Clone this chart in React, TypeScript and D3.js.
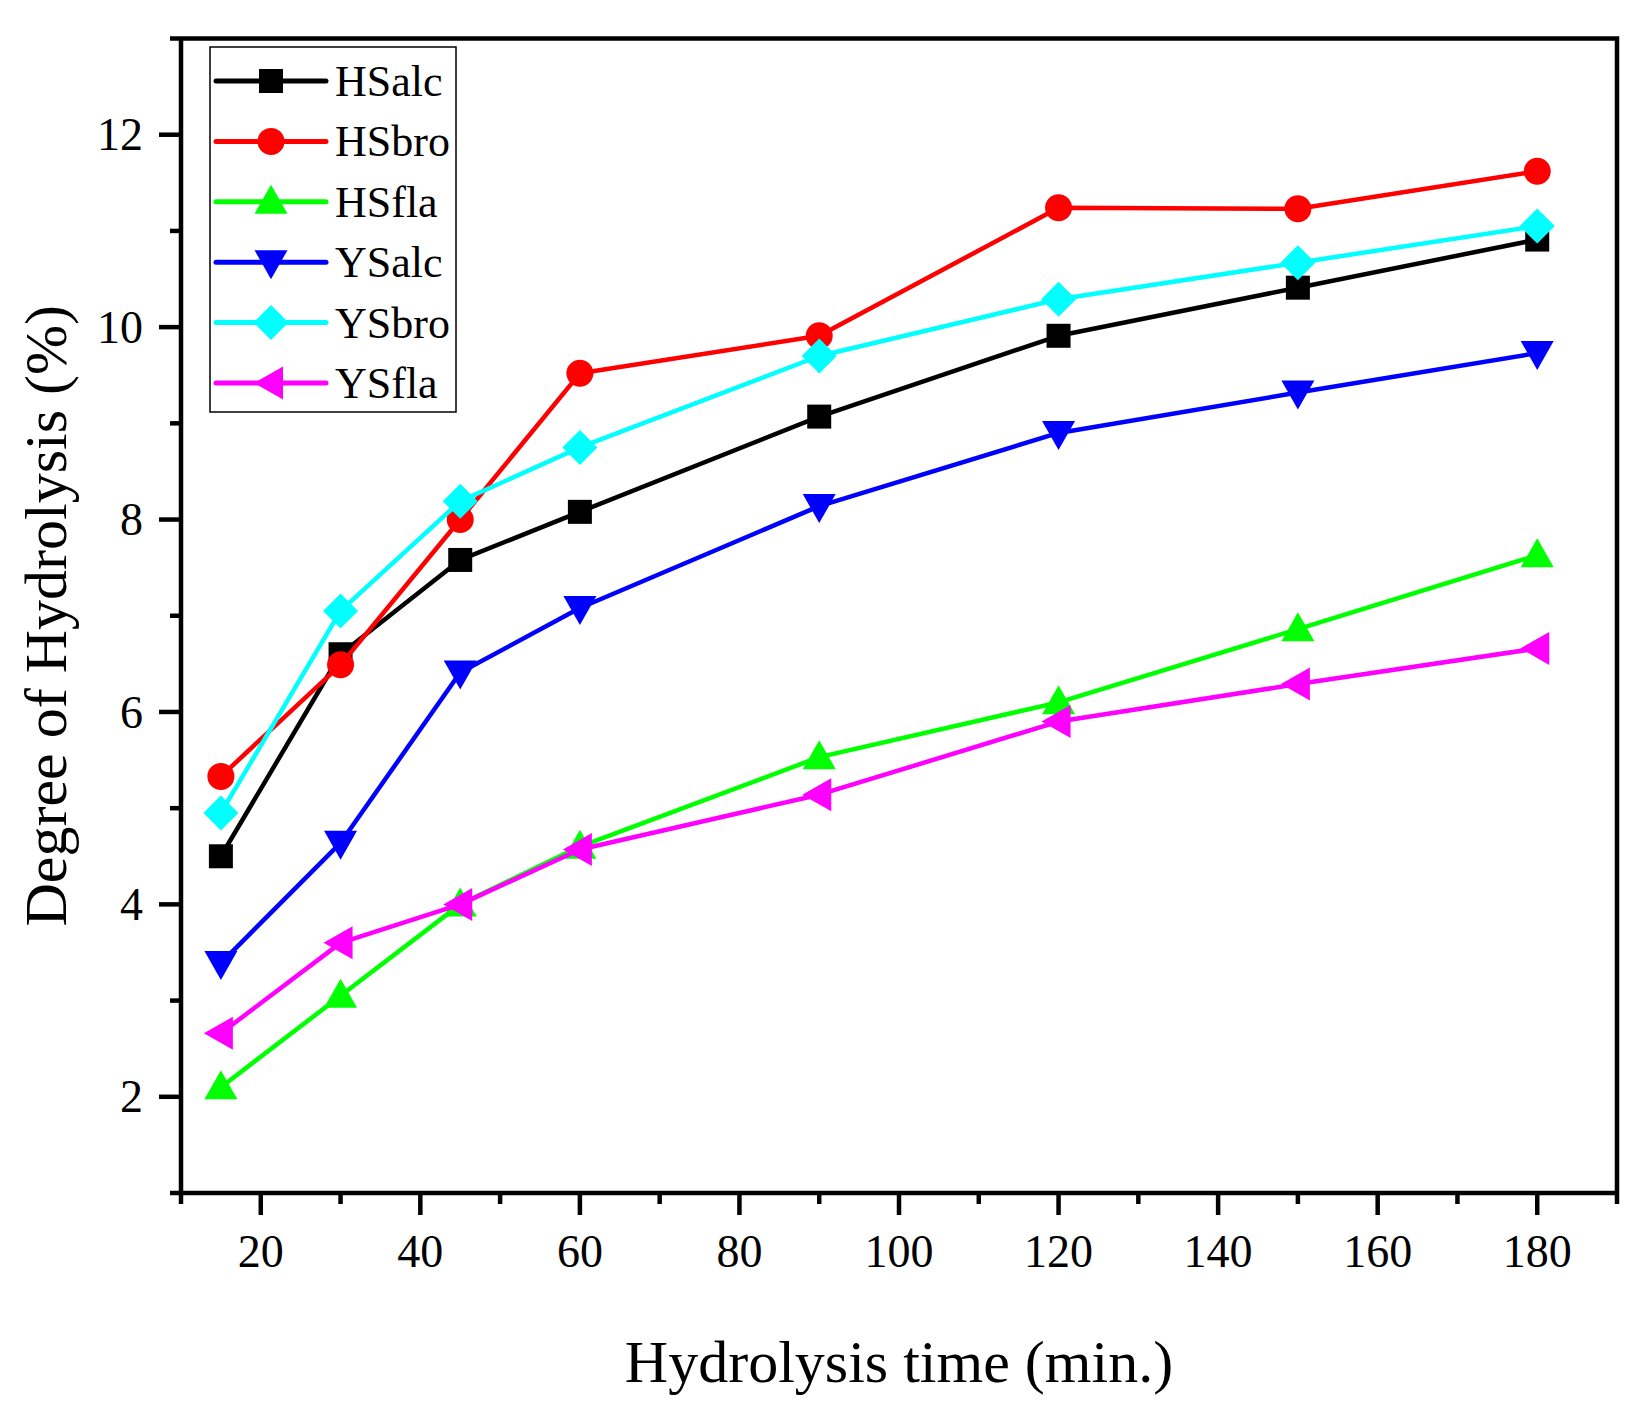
import { useEffect, useRef } from 'react'
import * as d3 from 'd3'

const TIMES = [15, 30, 45, 60, 90, 120, 150, 180]
const SERIES_NAMES = ['HSalc', 'HSbro', 'HSfla', 'YSalc', 'YSbro', 'YSfla']
const COLORS = ['#000000', '#ff0000', '#00ff00', '#0000ff', '#00ffff', '#ff00ff']
const SHAPES = ['square', 'circle', 'triUp', 'triDown', 'diamond', 'triLeft']

const HSalc = [4.5, 6.6, 7.58, 8.08, 9.07, 9.91, 10.41, 10.91]
const HSbro = [5.33, 6.49, 8.0, 9.52, 9.91, 11.24, 11.23, 11.62]
const HSfla = [2.1, 3.05, 4.0, 4.6, 5.53, 6.1, 6.86, 7.63]
const YSalc = [3.39, 4.64, 6.41, 7.08, 8.14, 8.9, 9.32, 9.73]
const YSbro = [4.95, 7.05, 8.19, 8.75, 9.7, 10.29, 10.67, 11.05]
const YSfla = [2.66, 3.6, 4.0, 4.57, 5.14, 5.9, 6.29, 6.66]
const VALUES = [HSalc, HSbro, HSfla, YSalc, YSbro, YSfla]

const X_MAJOR = [20, 40, 60, 80, 100, 120, 140, 160, 180]
const X_MINOR = [10, 30, 50, 70, 90, 110, 130, 150, 170, 190]
const Y_MAJOR = [2, 4, 6, 8, 10, 12]
const Y_MINOR = [1, 3, 5, 7, 9, 11, 13]

const FONT = '"Liberation Serif", "Times New Roman", serif'

function markerPath(shape: string, cx: number, cy: number) {
  switch (shape) {
    case 'square': {
      const h = 12
      return `M${cx - h},${cy - h}H${cx + h}V${cy + h}H${cx - h}Z`
    }
    case 'circle': {
      const r = 13.5
      return `M${cx - r},${cy}A${r},${r} 0 1 0 ${cx + r},${cy}A${r},${r} 0 1 0 ${cx - r},${cy}Z`
    }
    case 'triUp':
      return `M${cx},${cy - 17}L${cx + 16.5},${cy + 12}L${cx - 16.5},${cy + 12}Z`
    case 'triDown':
      return `M${cx},${cy + 17}L${cx + 16.5},${cy - 12}L${cx - 16.5},${cy - 12}Z`
    case 'triLeft':
      return `M${cx - 17},${cy}L${cx + 12},${cy - 16.5}L${cx + 12},${cy + 16.5}Z`
    default: {
      const d = 17.5
      return `M${cx},${cy - d}L${cx + d},${cy}L${cx},${cy + d}L${cx - d},${cy}Z`
    }
  }
}

export default function App() {
  const svgRef = useRef<SVGSVGElement>(null)

  useEffect(() => {
    const svg = d3.select(svgRef.current)
    svg.selectAll('*').remove()

    const W = 1633, H = 1411
    const left = 181, right = 1617, top = 38.5, bottom = 1193
    const x = d3.scaleLinear().domain([10, 190]).range([left, right])
    const y = d3.scaleLinear().domain([1, 13]).range([bottom, top])

    svg.attr('width', W).attr('height', H)
    svg.append('rect').attr('width', W).attr('height', H).attr('fill', '#fff')

    const g = svg.append('g')
    const axisW = 4.5

    // frame: top and right
    g.append('path').attr('d', `M${left},${top}H${right}V${bottom}`)
      .attr('fill', 'none').attr('stroke', '#000').attr('stroke-width', axisW)

    // ticks
    X_MAJOR.forEach((v) => {
      g.append('line').attr('x1', x(v)).attr('x2', x(v)).attr('y1', bottom).attr('y2', bottom + 22)
        .attr('stroke', '#000').attr('stroke-width', axisW)
      g.append('text').attr('x', x(v)).attr('y', 1267).attr('text-anchor', 'middle')
        .attr('font-family', FONT).attr('font-size', 46).text(String(v))
    })
    X_MINOR.forEach((v) => {
      g.append('line').attr('x1', x(v)).attr('x2', x(v)).attr('y1', bottom).attr('y2', bottom + 11)
        .attr('stroke', '#000').attr('stroke-width', axisW)
    })
    Y_MAJOR.forEach((v) => {
      g.append('line').attr('x1', left - 22).attr('x2', left).attr('y1', y(v)).attr('y2', y(v))
        .attr('stroke', '#000').attr('stroke-width', axisW)
      g.append('text').attr('x', 143).attr('y', y(v)).attr('dy', '0.34em').attr('text-anchor', 'end')
        .attr('font-family', FONT).attr('font-size', 46).text(String(v))
    })
    Y_MINOR.forEach((v) => {
      g.append('line').attr('x1', left - 11).attr('x2', left).attr('y1', y(v)).attr('y2', y(v))
        .attr('stroke', '#000').attr('stroke-width', axisW)
    })

    // axes
    g.append('path').attr('d', `M${left},${top}V${bottom}H${right}`)
      .attr('fill', 'none').attr('stroke', '#000').attr('stroke-width', axisW)

    // titles
    g.append('text').attr('x', (left + right) / 2).attr('y', 1382).attr('text-anchor', 'middle')
      .attr('font-family', FONT).attr('font-size', 60).text('Hydrolysis time (min.)')
    g.append('text').attr('transform', `translate(66,${(top + bottom) / 2}) rotate(-90)`)
      .attr('text-anchor', 'middle').attr('font-family', FONT).attr('font-size', 60)
      .text('Degree of Hydrolysis (%)')

    // series
    const line = d3.line<number>().x((_, i) => x(TIMES[i])).y((d) => y(d))
    VALUES.forEach((vals, s) => {
      g.append('path').attr('d', line(vals)).attr('fill', 'none')
        .attr('stroke', COLORS[s]).attr('stroke-width', 4.5).attr('stroke-linejoin', 'round')
      vals.forEach((v, i) => {
        g.append('path').attr('d', markerPath(SHAPES[s], x(TIMES[i]), y(v))).attr('fill', COLORS[s])
      })
    })

    // legend
    g.append('rect').attr('x', 210).attr('y', 47).attr('width', 246).attr('height', 365)
      .attr('fill', '#fff').attr('stroke', '#000').attr('stroke-width', 1.5)
    SERIES_NAMES.forEach((name, s) => {
      const ly = 81 + s * 60.4
      g.append('line').attr('x1', 216).attr('x2', 326).attr('y1', ly).attr('y2', ly)
        .attr('stroke', COLORS[s]).attr('stroke-width', 5).attr('stroke-linecap', 'round')
      g.append('path').attr('d', markerPath(SHAPES[s], 271, ly)).attr('fill', COLORS[s])
      g.append('text').attr('x', 335).attr('y', ly).attr('dy', '0.34em')
        .attr('font-family', FONT).attr('font-size', 44).text(name)
    })
  }, [])

  return (
    <div style={{ position: 'absolute', left: 0, top: 0 }}>
      <svg ref={svgRef} style={{ display: 'block' }} />
    </div>
  )
}
